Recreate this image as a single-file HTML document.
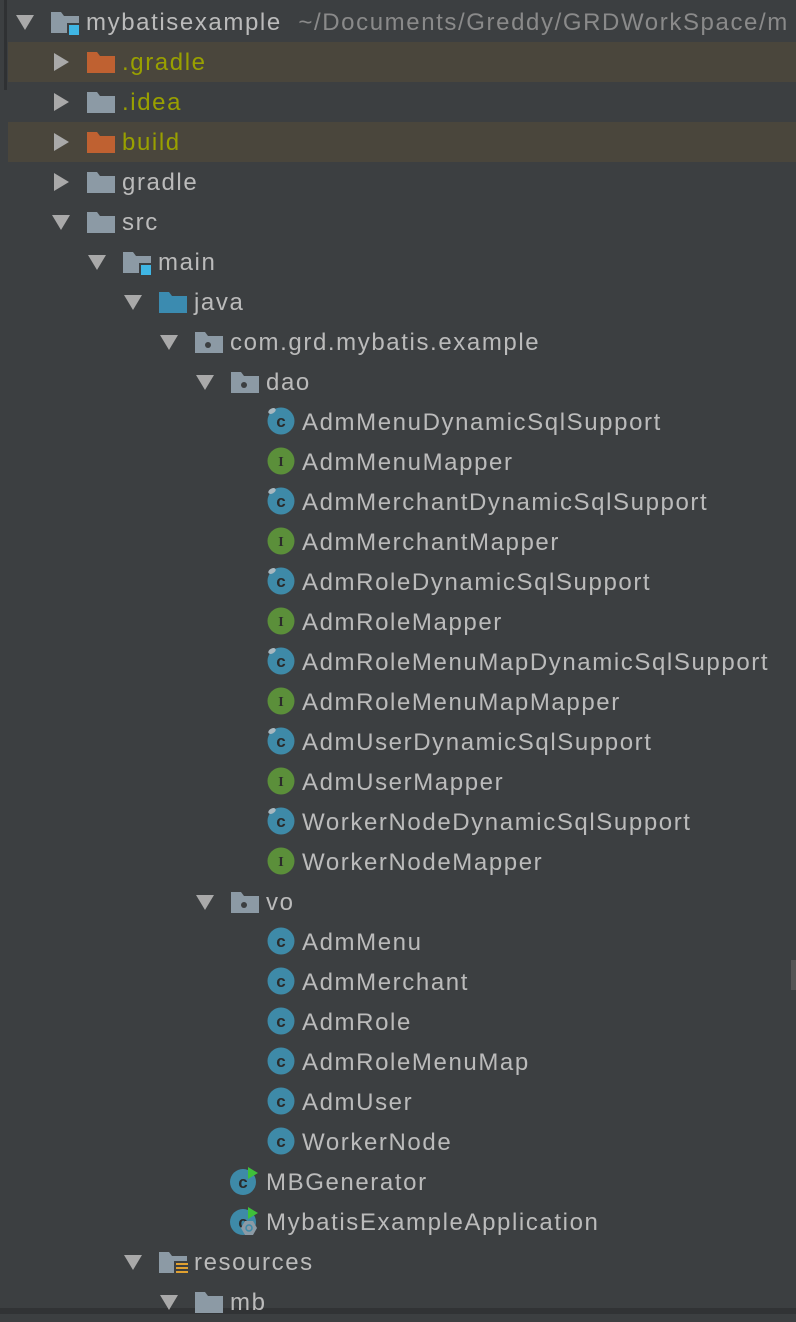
<!DOCTYPE html>
<html><head><meta charset="utf-8"><style>
body{margin:0;width:796px;height:1314px;background:#3c3f41;overflow:hidden;position:relative;font-family:"Liberation Sans",sans-serif;}
.r{position:absolute;left:0;width:796px;height:40px;}
.hl{background:#4a463c;left:8px;}
.t{position:absolute;top:7px;font-size:24px;letter-spacing:1.6px;color:#bbbbbb;white-space:nowrap;line-height:28px;}
.ol{color:#99a000;}
.ar{position:absolute;}
.ic{position:absolute;top:7px;}
</style></head><body>
<div style="position:absolute;left:4px;top:0;width:3px;height:90px;background:#2f3133"></div>
<div style="position:absolute;left:0;top:1308px;width:796px;height:6px;background:#313335"></div>
<div style="position:absolute;left:791px;top:960px;width:5px;height:30px;background:#555"></div>
<svg width="0" height="0" style="position:absolute">
<defs>
<symbol id="down" viewBox="0 0 20 20"><polygon points="1,3 19,3 10,18" fill="#a9a9a9"/></symbol>
<symbol id="right" viewBox="0 0 20 20"><polygon points="3,1 18,10 3,19" fill="#a9a9a9"/></symbol>
<symbol id="fold" viewBox="0 0 30 26"><path d="M1 3h10l3 4h15v17H1z" fill="#8c9aa5"/></symbol>
<symbol id="ofold" viewBox="0 0 30 26"><path d="M1 3h10l3 4h15v17H1z" fill="#bf6131"/></symbol>
<symbol id="bfold" viewBox="0 0 30 26"><path d="M1 3h10l3 4h15v17H1z" fill="#3b8bb0"/></symbol>
<symbol id="pkg" viewBox="0 0 30 26"><path d="M1 3h10l3 4h15v17H1z" fill="#8c9aa5"/><circle cx="14" cy="16" r="3" fill="#3c3f41"/></symbol>
<symbol id="mod" viewBox="0 0 30 26"><path d="M1 3h10l3 4h15v17H1z" fill="#8c9aa5"/><rect x="17" y="14" width="12" height="12" fill="#3c3f41"/><rect x="19" y="16" width="10" height="10" fill="#3fb6e4"/></symbol>
<symbol id="res" viewBox="0 0 30 26"><path d="M1 3h10l3 4h15v17H1z" fill="#8c9aa5"/><rect x="16" y="12" width="14" height="14" fill="#3c3f41"/><rect x="18" y="14" width="12" height="2" fill="#e0a030"/><rect x="18" y="18" width="12" height="2" fill="#e0a030"/><rect x="18" y="22" width="12" height="2" fill="#e0a030"/></symbol>
<symbol id="cls" viewBox="0 0 28 28"><circle cx="14" cy="14" r="13.5" fill="#3e8aa8"/><text x="14" y="20" font-family="Liberation Sans" font-size="17" font-weight="bold" fill="#2b2b2b" text-anchor="middle">c</text></symbol>
<symbol id="cls2" viewBox="0 0 28 28"><circle cx="14" cy="14" r="13.5" fill="#3e8aa8"/><text x="14" y="20" font-family="Liberation Sans" font-size="17" font-weight="bold" fill="#2b2b2b" text-anchor="middle">c</text><ellipse cx="5" cy="4" rx="4" ry="2.5" fill="#a8b8c0" transform="rotate(-30 5 4)"/></symbol>
<symbol id="intf" viewBox="0 0 28 28"><circle cx="14" cy="14" r="13.5" fill="#5b8f3a"/><text x="14" y="19" font-family="Liberation Serif" font-size="14" font-weight="bold" fill="#2b2b2b" text-anchor="middle">I</text></symbol>
<symbol id="run" viewBox="0 0 30 28"><circle cx="13" cy="15" r="13" fill="#3e8aa8"/><text x="13" y="21" font-family="Liberation Sans" font-size="17" font-weight="bold" fill="#2b2b2b" text-anchor="middle">c</text><polygon points="18,0 28,6 18,12" fill="#3fc03a"/></symbol>
<symbol id="spring" viewBox="0 0 30 28"><circle cx="13" cy="15" r="13" fill="#3e8aa8"/><text x="13" y="21" font-family="Liberation Sans" font-size="17" font-weight="bold" fill="#2b2b2b" text-anchor="middle">c</text><polygon points="18,0 28,6 18,12" fill="#3fc03a"/><polygon points="15,14 23,14 27,21 23,28 15,28 11,21" fill="#8c9aa5"/><circle cx="19" cy="21" r="3" fill="none" stroke="#3e8aa8" stroke-width="1.5"/></symbol>
</defs></svg>
<div id="tree"></div>
<script>
var rows=[
[0,'d','mod','mybatisexample','',0],
[1,'r','ofold','.gradle','ol',1],
[1,'r','fold','.idea','ol',0],
[1,'r','ofold','build','ol',1],
[1,'r','fold','gradle','',0],
[1,'d','fold','src','',0],
[2,'d','mod','main','',0],
[3,'d','bfold','java','',0],
[4,'d','pkg','com.grd.mybatis.example','',0],
[5,'d','pkg','dao','',0],
[6,'','cls2','AdmMenuDynamicSqlSupport','',0],
[6,'','intf','AdmMenuMapper','',0],
[6,'','cls2','AdmMerchantDynamicSqlSupport','',0],
[6,'','intf','AdmMerchantMapper','',0],
[6,'','cls2','AdmRoleDynamicSqlSupport','',0],
[6,'','intf','AdmRoleMapper','',0],
[6,'','cls2','AdmRoleMenuMapDynamicSqlSupport','',0],
[6,'','intf','AdmRoleMenuMapMapper','',0],
[6,'','cls2','AdmUserDynamicSqlSupport','',0],
[6,'','intf','AdmUserMapper','',0],
[6,'','cls2','WorkerNodeDynamicSqlSupport','',0],
[6,'','intf','WorkerNodeMapper','',0],
[5,'d','pkg','vo','',0],
[6,'','cls','AdmMenu','',0],
[6,'','cls','AdmMerchant','',0],
[6,'','cls','AdmRole','',0],
[6,'','cls','AdmRoleMenuMap','',0],
[6,'','cls','AdmUser','',0],
[6,'','cls','WorkerNode','',0],
[5,'','run','MBGenerator','',0],
[5,'','spring','MybatisExampleApplication','',0],
[3,'d','res','resources','',0],
[4,'d','fold','mb','',0]
];
var h='';
rows.forEach(function(r,i){
 var L=r[0],y=2+40*i;
 h+='<div class="r'+(r[5]?' hl':'')+'" style="top:'+y+'px">';
 var off=r[5]?-8:0;
 if(r[1])h+='<svg class="ar" style="left:'+(15+36*L+off)+'px;top:10px" width="20" height="20"><use href="#'+(r[1]=='d'?'down':'right')+'"/></svg>';
 var il=(L==6?266:50+36*L)+off;
 if(L==6||r[2]=='run'||r[2]=='spring'){il=(L==6?266:230)+off;h+='<svg class="ic" style="left:'+il+'px;top:5px" width="30" height="28"><use href="#'+r[2]+'"/></svg>';}
 else h+='<svg class="ic" style="left:'+il+'px" width="30" height="26"><use href="#'+r[2]+'"/></svg>';
 var tl=(L==6?302:86+36*L)+off;
 h+='<div class="t '+r[4]+'" style="left:'+tl+'px">'+r[3]+(i==0?'<span style="color:#8a8a8a">&nbsp;&nbsp;~/Documents/Greddy/GRDWorkSpace/m</span>':'')+'</div></div>';
});
document.getElementById('tree').innerHTML=h;
</script>
</body></html>
